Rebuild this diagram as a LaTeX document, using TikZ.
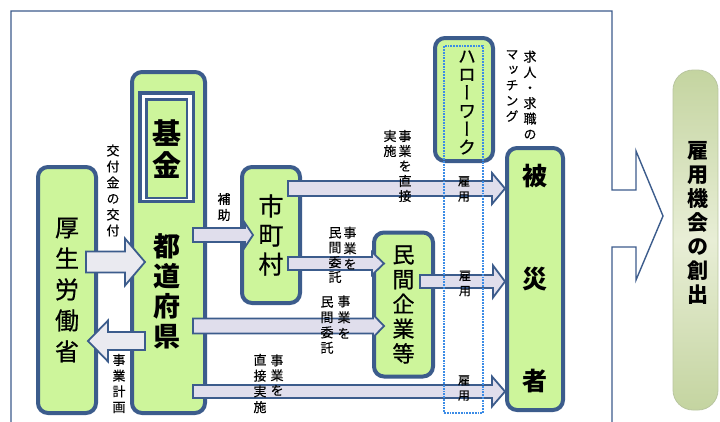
\documentclass[tikz,border=0pt]{standalone}
\usepackage{fontspec}
\newfontfamily\jp[RawFeature=+vert]{Noto Sans CJK JP}
\newfontfamily\jpm[RawFeature=+vert, FakeBold=0.7]{Noto Sans CJK JP}
\newfontfamily\jps[RawFeature=+vert, FakeBold=0.3]{Noto Sans CJK JP}
\usetikzlibrary{calc}
\definecolor{dkblue}{RGB}{60,92,140}
\definecolor{boxgreen}{RGB}{205,245,155}
\definecolor{arrowfill}{RGB}{224,222,236}
\definecolor{arrowfillb}{RGB}{234,234,240}
\definecolor{dotblue}{RGB}{60,140,230}
\definecolor{olivedark}{RGB}{196,212,160}
\definecolor{olivelight}{RGB}{232,238,214}
\definecolor{oliveedge}{RGB}{185,198,160}
% #1 style, #2 from anchor, #3 dx, #4 to anchor, #5 dx, #6 y (down), #7 shaft half, #8 head half, #9 head length
\newcommand\barrow[9]{%
  \draw[#1] let \p1=(#2), \p2=(#4) in
    ({\x1+1pt*(#3)},{-1pt*(#6)+1pt*(#7)}) -- ({\x2+1pt*(#5)-1pt*(#9)},{-1pt*(#6)+1pt*(#7)})
    -- ({\x2+1pt*(#5)-1pt*(#9)},{-1pt*(#6)+1pt*(#8)}) -- ({\x2+1pt*(#5)},{-1pt*(#6)})
    -- ({\x2+1pt*(#5)-1pt*(#9)},{-1pt*(#6)-1pt*(#8)}) -- ({\x2+1pt*(#5)-1pt*(#9)},{-1pt*(#6)-1pt*(#7)})
    -- ({\x1+1pt*(#3)},{-1pt*(#6)-1pt*(#7)}) -- cycle;}
\begin{document}
\begin{tikzpicture}[x=1pt,y=-1pt,
  box/.style={draw=dkblue, line width=4pt, fill=boxgreen, rounded corners=10pt, inner sep=0pt, align=center},
  blk/.style={draw=dkblue, line width=1.8pt, fill=arrowfill, line join=miter},
  blkb/.style={draw=dkblue, line width=1.8pt, fill=arrowfillb, line join=miter},
  lbl/.style={inner sep=0pt, align=center},
  frame/.style={draw=dkblue, line width=1.4pt, line join=miter}]
\useasboundingbox (0,0) rectangle (720,421);
\clip (0,0) rectangle (720,421);
\fill[white] (0,0) rectangle (720,421);
% big outline arrow frame
\draw[frame] (11,440) -- (11,11) -- (612,11) -- (612,190) -- (636,190) -- (636,151)
  -- (663,216) -- (636,280) -- (636,247) -- (612,247) -- (612,440);
% result box
\node[draw=oliveedge, line width=0.8pt, rounded corners=20pt, minimum width=45pt, minimum height=340pt, inner sep=0pt,
  left color=olivedark, right color=olivedark, middle color=olivelight, shading angle=0] (sosyutsu) at (695.5,240) {};
\node[lbl, font=\jp\bfseries\fontsize{21}{24}\selectfont] (sosyutsu-t) at (698,223) {雇\\用\\機\\会\\の\\創\\出};
% boxes
\node[box, minimum width=58pt, minimum height=246pt, font=\jpm\fontsize{24}{31}\selectfont] (kosei) at (67,290) {厚\\生\\労\\働\\省};
\node[box, minimum width=73pt, minimum height=341pt] (todo) at (168.5,242.5) {};
\node[draw=dkblue, line width=3.5pt, fill=white, minimum width=53.5pt, minimum height=108.5pt, inner sep=0pt] (kikin-o) at (166.5,147) {};
\node[draw=dkblue, line width=2.5pt, fill=boxgreen, minimum width=40.5pt, minimum height=98.5pt, inner sep=0pt] (kikin) at (166.5,148.5) {};
\node[lbl, font=\jp\bfseries\fontsize{29}{32}\selectfont] (kikin-t) at (167,149) {基\\金};
\node[lbl, font=\jp\bfseries\fontsize{27}{30}\selectfont] (todo-t) at (167,291) {都\\道\\府\\県};
\node[box, minimum width=58pt, minimum height=136pt, font=\jpm\fontsize{25}{29}\selectfont] (shicho) at (271,235) {市\\町\\村};
\node[box, minimum width=59pt, minimum height=144pt, font=\jpm\fontsize{22}{24.75}\selectfont] (minkan) at (403.5,304.5) {民\\間\\企\\業\\等};
\node[box, minimum width=58pt, minimum height=123pt] (hello) at (464,99.5) {};
\node[lbl, font=\jpm\fontsize{18}{18.2}\selectfont] (hello-t) at (467,102.5) {ハ\\ロ\\ー\\ワ\\ー\\ク};
\node[box, minimum width=56pt, minimum height=262pt, font=\jp\bfseries\fontsize{25}{102.5}\selectfont] (hisai) at (535,279) {被\\災\\者};
% block arrows
\barrow{blkb}{kosei.east}{-12}{todo.west}{15}{262}{10.5}{23.5}{20}
\barrow{blkb}{todo.west}{15}{kosei.east}{-10}{341}{9}{20.5}{-20}
\barrow{blk}{todo.east}{-14}{shicho.west}{13}{235}{7}{12}{8}
\barrow{blk}{shicho.east}{-14}{hisai.west}{0}{188.5}{7.5}{15.5}{13}
\barrow{blk}{shicho.east}{-14}{minkan.west}{12}{263.5}{6.5}{11.5}{12}
\barrow{blk}{minkan.east}{-15}{hisai.west}{0}{281.5}{6.5}{16}{12}
\barrow{blk}{todo.east}{-14}{minkan.west}{12}{326}{7.5}{11.5}{11}
\barrow{blk}{todo.east}{-14}{hisai.west}{0}{391.5}{6.5}{15}{13}
% dotted zone
\node[draw=dotblue, densely dotted, line width=1.8pt, minimum width=39pt, minimum height=367pt, inner sep=0pt] (hwzone) at (463.5,229.5) {};
% labels
\node[lbl, font=\jps\fontsize{13}{16}\selectfont] (l-kofu) at (113,190.5) {交\\付\\金\\の\\交\\付};
\node[lbl, font=\jps\fontsize{13}{15.7}\selectfont] (l-keikaku) at (119,383.5) {事\\業\\計\\画};
\node[lbl, font=\jps\fontsize{13}{16}\selectfont] (l-hojo) at (224,207) {補\\助};
\node[lbl, font=\jps\fontsize{13}{15}\selectfont] (l-a4a) at (405,166) {事\\業\\を\\直\\接};
\node[lbl, font=\jps\fontsize{13}{15}\selectfont] (l-a4b) at (390,143.5) {実\\施};
\node[lbl, font=\jps\fontsize{13}{15.75}\selectfont] (l-a5a) at (350,248) {事\\業\\を};
\node[lbl, font=\jps\fontsize{13}{14.8}\selectfont] (l-a5b) at (335,255) {民\\間\\委\\託};
\node[lbl, font=\jps\fontsize{13}{16}\selectfont] (l-a7a) at (344,317) {事\\業\\を};
\node[lbl, font=\jps\fontsize{13}{15.3}\selectfont] (l-a7b) at (327,325) {民\\間\\委\\託};
\node[lbl, font=\jps\fontsize{13}{15}\selectfont] (l-a8a) at (277,375) {事\\業\\を};
\node[lbl, font=\jps\fontsize{13}{15.7}\selectfont] (l-a8b) at (260,383.5) {直\\接\\実\\施};
\node[lbl, font=\jps\fontsize{12}{15}\selectfont] (l-koyo1) at (464,189) {雇\\用};
\node[lbl, font=\jps\fontsize{12}{15}\selectfont] (l-koyo2) at (465,283.5) {雇\\用};
\node[lbl, font=\jps\fontsize{12}{15}\selectfont] (l-koyo3) at (464,388) {雇\\用};
\node[lbl, font=\jps\fontsize{13}{15.5}\selectfont] (l-kyujin) at (530,95) {求\\人\\・\\求\\職\\の};
\node[lbl, font=\jps\fontsize{13}{15.5}\selectfont] (l-match) at (512,86) {マ\\ッ\\チ\\ン\\グ};
\end{tikzpicture}
\end{document}
